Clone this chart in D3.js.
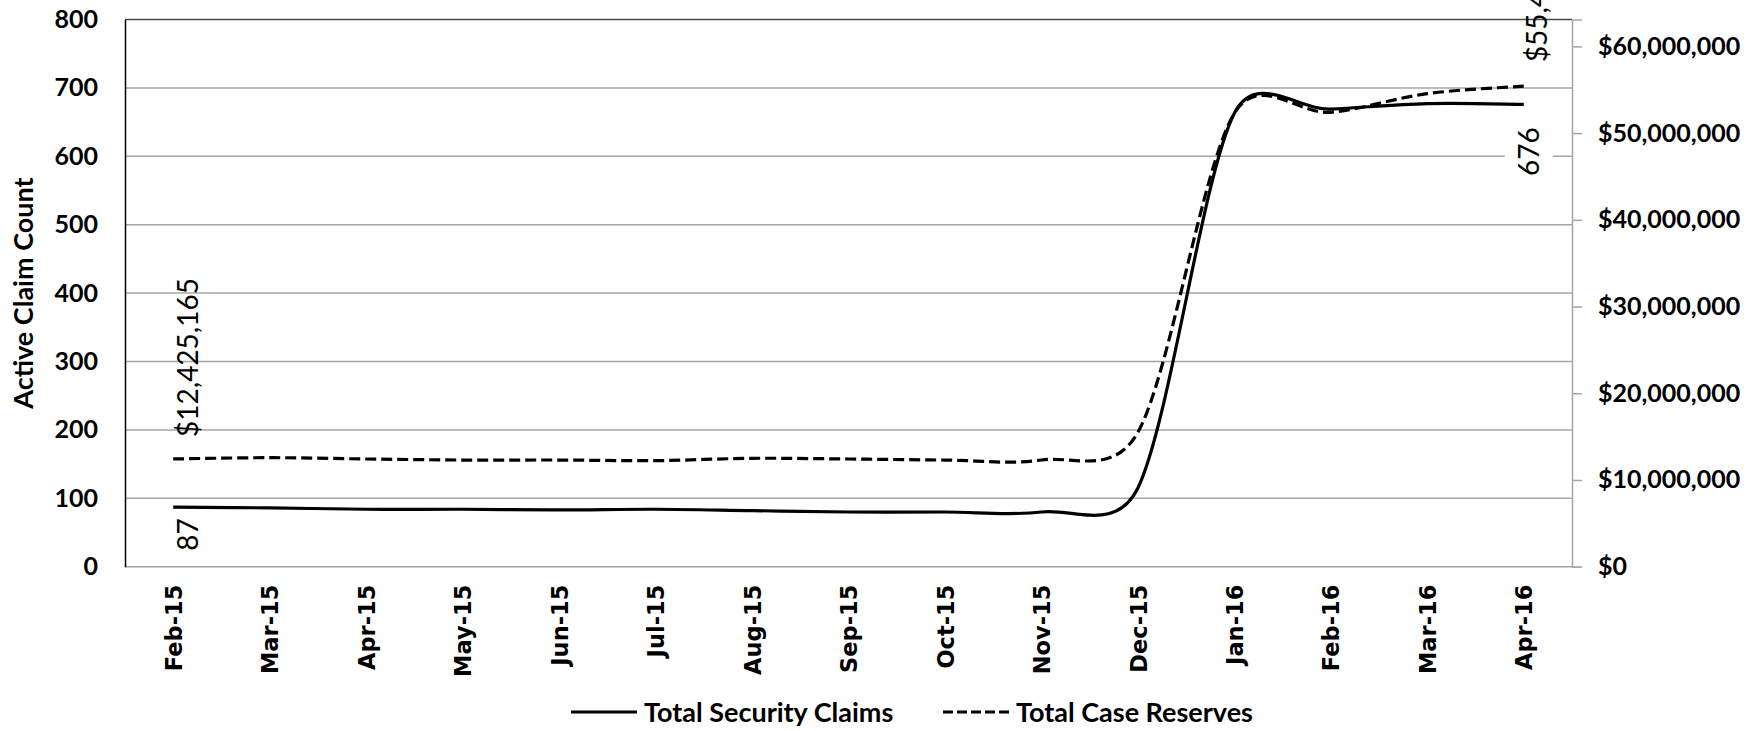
<!DOCTYPE html>
<html>
<head>
<meta charset="utf-8">
<script src="https://cdn.jsdelivr.net/npm/d3@7"></script>
<style>
  html, body { margin: 0; padding: 0; background: #fff; }
  svg { display: block; }
</style>
</head>
<body>
<svg id="chart" width="1756" height="731"></svg>
<script>
// Monthly categories
const months = ["Feb-15","Mar-15","Apr-15","May-15","Jun-15","Jul-15","Aug-15",
                "Sep-15","Oct-15","Nov-15","Dec-15","Jan-16","Feb-16","Mar-16","Apr-16"];
// Active security claim count (left axis)
const claims = [87, 86, 84, 84, 83, 84, 82, 80, 80, 80, 115, 663, 669, 677, 676];
// Total case reserves in dollars (right axis)
const reserves = [12425165, 12570000, 12420000, 12300000, 12300000, 12230000, 12500000,
                  12420000, 12300000, 12300000, 15500000, 52300000, 52400000, 54550000, 55418250];
// Axis ticks
const leftTicks = [0, 100, 200, 300, 400, 500, 600, 700, 800];
const rightTicks = [0, 10000000, 20000000, 30000000, 40000000, 50000000, 60000000];
// Series names
const seriesNames = ["Total Security Claims", "Total Case Reserves"];

// Smoothed Bezier curve: control arms are 1/6 of the neighbour chord,
// capped at half of the segment length.
function SmoothCurve(context) { this._context = context; }
SmoothCurve.prototype = {
  areaStart() { this._line = 0; },
  areaEnd() { this._line = NaN; },
  lineStart() { this._pts = []; },
  point(x, y) { this._pts.push([+x, +y]); },
  lineEnd() {
    const p = this._pts, n = p.length, c = this._context;
    if (!n) return;
    c.moveTo(p[0][0], p[0][1]);
    const dist = (a, b) => Math.hypot(b[0] - a[0], b[1] - a[1]);
    for (let i = 0; i < n - 1; i++) {
      const P0 = p[Math.max(i - 1, 0)], P1 = p[i], P2 = p[i + 1], P3 = p[Math.min(i + 2, n - 1)];
      const d12 = dist(P1, P2), d02 = dist(P0, P2), d13 = dist(P1, P3);
      const f1 = (d02 / 6 < d12 / 2) ? 1 / 6 : d12 / (2 * d02);
      const f2 = (d13 / 6 < d12 / 2) ? 1 / 6 : d12 / (2 * d13);
      c.bezierCurveTo(
        P1[0] + f1 * (P2[0] - P0[0]), P1[1] + f1 * (P2[1] - P0[1]),
        P2[0] - f2 * (P3[0] - P1[0]), P2[1] - f2 * (P3[1] - P1[1]),
        P2[0], P2[1]);
    }
  }
};
const smooth = ctx => new SmoothCurve(ctx);

const svg = d3.select("#chart");
const plot = { left: 125, right: 1572, top: 19.5, bottom: 566.7 };

const x = d3.scalePoint().domain(months).range([plot.left, plot.right]).padding(0.5);
const yL = d3.scaleLinear().domain([0, 800]).range([plot.bottom, plot.top]);
const yR = d3.scaleLinear().domain([0, 63100000]).range([plot.bottom, plot.top]);

const tickFont = "Lato, 'Open Sans', sans-serif";
const money = v => "$" + d3.format(",")(v);

// Horizontal gridlines
svg.append("g").selectAll("line").data(leftTicks).join("line")
  .attr("x1", plot.left).attr("x2", plot.right)
  .attr("y1", d => yL(d)).attr("y2", d => yL(d))
  .attr("stroke", d => d === 800 ? "#4a4a4a" : "#a6a6a6")
  .attr("stroke-width", 1.5);

// Left axis
const gL = svg.append("g").attr("transform", `translate(${plot.left},0)`)
  .call(d3.axisLeft(yL).tickValues(leftTicks).tickSize(0).tickPadding(27));
gL.select(".domain").attr("stroke", "#000").attr("stroke-width", 1.5);
gL.selectAll("text").attr("font-family", tickFont).attr("font-weight", 700)
  .attr("font-size", 25).attr("fill", "#000");

// Right axis
const gR = svg.append("g").attr("transform", `translate(${plot.right},0)`)
  .call(d3.axisRight(yR).tickValues(rightTicks).tickSize(10).tickPadding(16).tickFormat(money));
gR.select(".domain").attr("stroke", "#a6a6a6").attr("stroke-width", 1.5);
gR.selectAll(".tick line").attr("stroke", "#a6a6a6").attr("stroke-width", 1.5);
gR.selectAll("text").attr("font-family", tickFont).attr("font-weight", 700)
  .attr("font-size", 25).attr("fill", "#000");

// Category axis
const gX = svg.append("g").attr("transform", `translate(0,${plot.bottom})`)
  .call(d3.axisBottom(x).tickSize(0));
gX.select(".domain").remove();
gX.selectAll("text")
  .attr("font-family", "'DejaVu Sans', Verdana, sans-serif").attr("font-weight", 700)
  .attr("font-size", 22.5).attr("fill", "#000")
  .attr("text-anchor", "end")
  .attr("transform", "translate(0,18) rotate(-90)")
  .attr("x", 0).attr("y", 0).attr("dy", "0.36em");

// Left axis title
svg.append("text")
  .attr("transform", `translate(23,${(plot.top + plot.bottom) / 2}) rotate(-90)`)
  .attr("text-anchor", "middle").attr("dy", "0.36em")
  .attr("font-family", tickFont).attr("font-weight", 700).attr("font-size", 27)
  .text("Active Claim Count");

// Series lines
const lineL = d3.line().x((d, i) => x(months[i])).y(d => yL(d)).curve(smooth);
const lineR = d3.line().x((d, i) => x(months[i])).y(d => yR(d)).curve(smooth);

svg.append("path").datum(reserves).attr("d", lineR)
  .attr("fill", "none").attr("stroke", "#000").attr("stroke-width", 3.2)
  .attr("stroke-dasharray", "11,5");
svg.append("path").datum(claims).attr("d", lineL)
  .attr("fill", "none").attr("stroke", "#000").attr("stroke-width", 3.2);

// Data labels at first and last months
const last = months.length - 1;
const labelFont = "Lato, 'Open Sans', sans-serif";
function vLabel(px, dx, startY, anchor, txt, boxed) {
  const g = svg.append("g");
  const t = g.append("text")
    .attr("transform", `translate(${px + dx},${startY}) rotate(-90)`)
    .attr("text-anchor", anchor).attr("dy", "0.36em")
    .attr("font-family", labelFont).attr("font-size", 28).attr("fill", "#000")
    .text(txt);
  if (boxed) {
    const len = t.node().getBBox().width;
    const y0 = anchor === "end" ? startY : startY - len;
    g.insert("rect", "text")
      .attr("x", px + dx - 24).attr("y", y0 - 3)
      .attr("width", 48).attr("height", len + 6).attr("fill", "#fff");
  }
}
// claim counts sit below the line, reserves above
vLabel(x(months[0]), 15, yL(claims[0]) + 11, "end", String(claims[0]), false);
vLabel(x(months[0]), 15, yR(reserves[0]) - 22, "start", money(reserves[0]), false);
vLabel(x(months[last]), 5, yL(claims[last]) + 23, "end", String(claims[last]), true);
vLabel(x(months[last]), 13, yR(reserves[last]) - 24, "start", money(reserves[last]), false);

// Legend
const legend = svg.append("g").attr("font-family", tickFont).attr("font-weight", 700).attr("font-size", 27);
const legendItems = [
  { name: seriesNames[0], x: 571, dash: null },
  { name: seriesNames[1], x: 943, dash: "10,4" }
];
legendItems.forEach(it => {
  legend.append("line").attr("x1", it.x).attr("x2", it.x + 66)
    .attr("y1", 712).attr("y2", 712).attr("stroke", "#000").attr("stroke-width", 3.2)
    .attr("stroke-dasharray", it.dash);
  legend.append("text").attr("x", it.x + 73).attr("y", 712).attr("dy", "0.36em").text(it.name);
});
</script>
</body>
</html>
